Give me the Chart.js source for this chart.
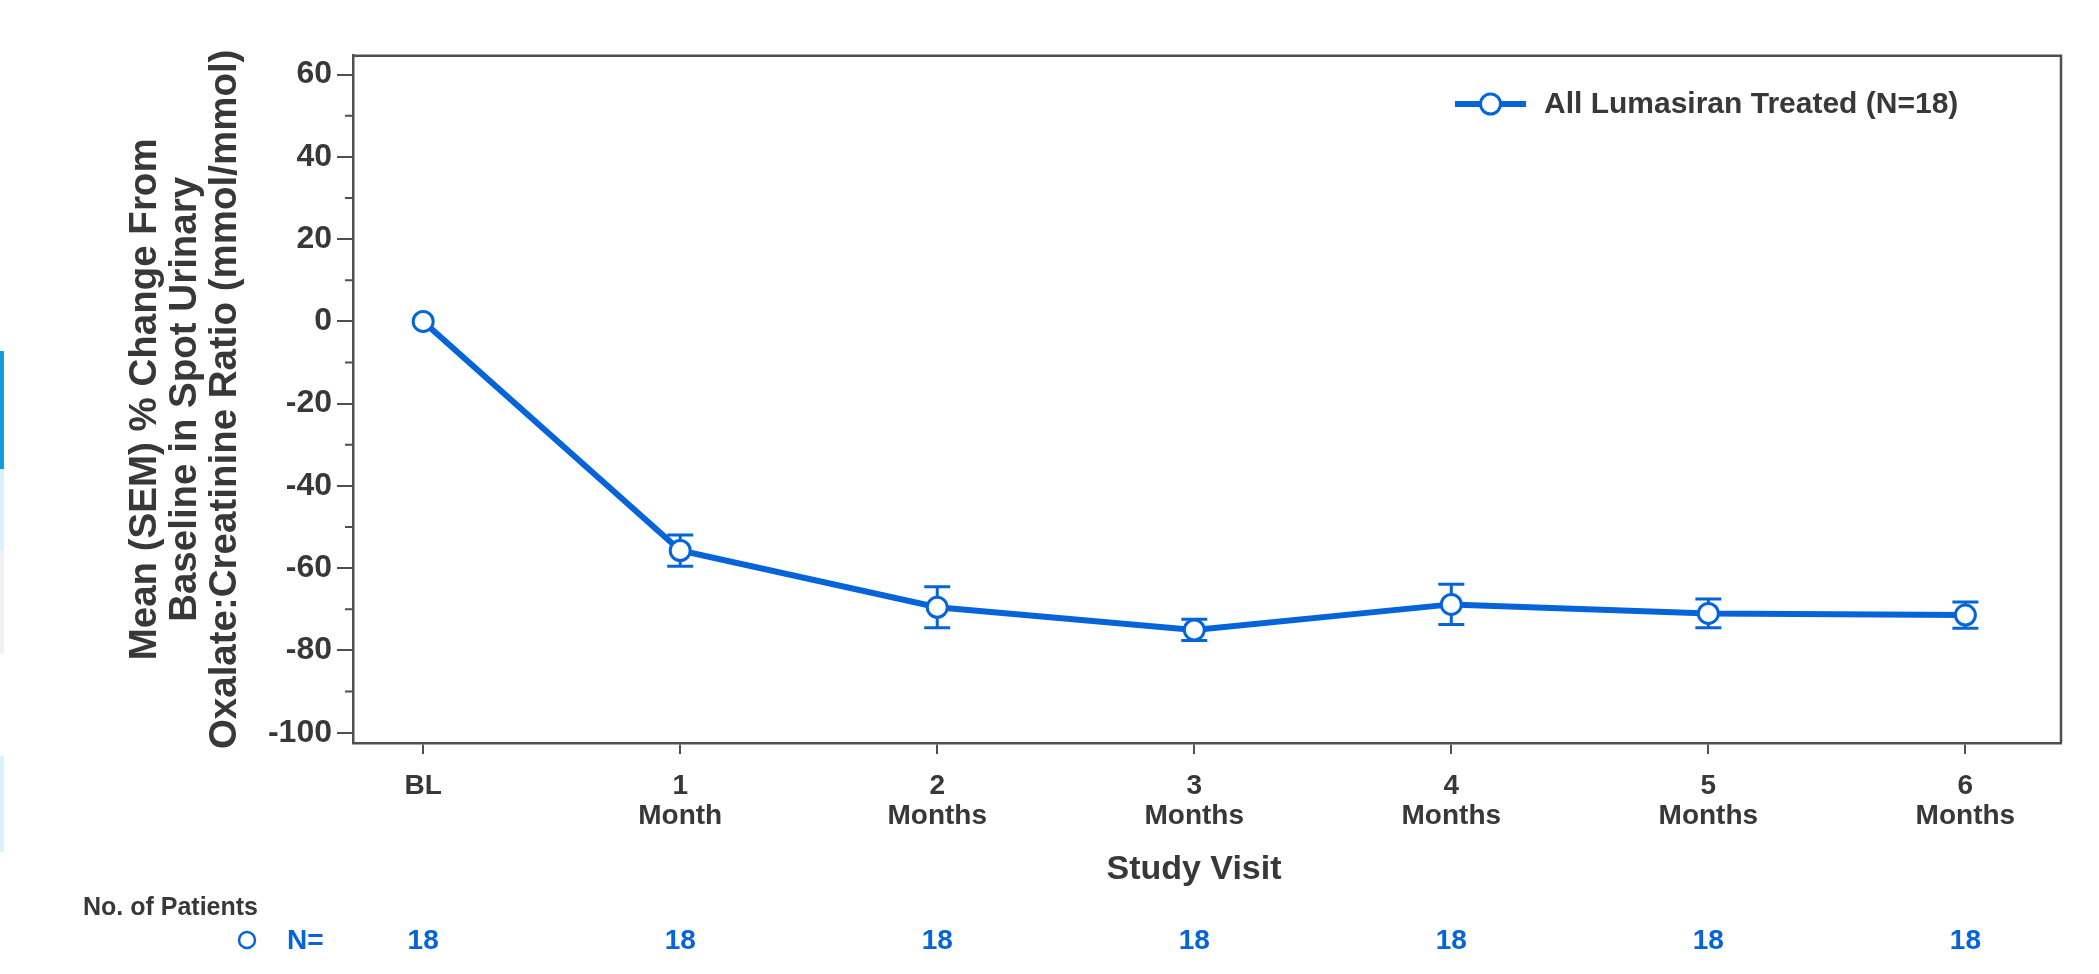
<!DOCTYPE html>
<html>
<head>
<meta charset="utf-8">
<style>
  html, body { margin: 0; padding: 0; background: #ffffff; overflow: hidden; }
  #wrap { position: relative; width: 2099px; height: 974px; }
  canvas { position: absolute; left: 0; top: 0; }
  .edge { position: absolute; left: 0; width: 4px; }
</style>
<script src="https://cdn.jsdelivr.net/npm/chart.js@4.4.1/dist/chart.umd.min.js"></script>
</head>
<body>
<div id="wrap">
  <div class="edge" style="top:351px;height:118px;background:#129be0;"></div>
  <div class="edge" style="top:469px;height:82px;background:#d8f2fc;"></div>
  <div class="edge" style="top:551px;height:103px;background:#f1f1f1;"></div>
  <div class="edge" style="top:756px;height:96px;background:#d8f2fc;"></div>
  <canvas id="chart" width="2099" height="974"></canvas>
</div>
<script>
// Study visits (x positions 0..6) and their axis labels
const visitIndex = [0, 1, 2, 3, 4, 5, 6];
const visitLabels = [['BL'], ['1', 'Month'], ['2', 'Months'], ['3', 'Months'], ['4', 'Months'], ['5', 'Months'], ['6', 'Months']];

// Mean (SEM) % change from baseline in spot urinary oxalate:creatinine ratio
const meanPct = [0, -55.7, -69.5, -75.0, -68.8, -71.0, -71.4];
const semPct = [0, 3.8, 5.0, 2.6, 4.9, 3.5, 3.2];

// Number of patients at each visit
const nPatients = [18, 18, 18, 18, 18, 18, 18];

// Axis ticks
const yMajorTicks = [60, 40, 20, 0, -20, -40, -60, -80, -100];
const yMinorTicks = [50, 30, 10, -10, -30, -50, -70, -90];

const seriesLabel = 'All Lumasiran Treated (N=18)';
const xTitle = 'Study Visit';
const yTitle = ['Mean (SEM) % Change From', 'Baseline in Spot Urinary', 'Oxalate:Creatinine Ratio (mmol/mmol)'];

const BLUE = '#0664d9';
const TEXT = '#383838';
const AXIS = '#4f4f4f';
const FONT = '"Liberation Sans", Arial, Helvetica, sans-serif';

// Error bars, drawn beneath the line and markers
const errorBars = {
  id: 'errorBars',
  beforeDatasetsDraw(chart) {
    const {ctx, scales: {x, y}} = chart;
    ctx.save();
    ctx.strokeStyle = BLUE;
    ctx.lineWidth = 3;
    meanPct.forEach((m, i) => {
      if (!semPct[i]) return;
      const px = x.getPixelForValue(visitIndex[i]);
      const yHi = y.getPixelForValue(m + semPct[i]);
      const yLo = y.getPixelForValue(m - semPct[i]);
      ctx.beginPath();
      ctx.moveTo(px, yHi); ctx.lineTo(px, yLo);
      ctx.moveTo(px - 13, yHi); ctx.lineTo(px + 13, yHi);
      ctx.moveTo(px - 13, yLo); ctx.lineTo(px + 13, yLo);
      ctx.stroke();
    });
    ctx.restore();
  }
};

// Frame (top/right), minor y ticks, x title, in-plot legend and the patient count row
const decorations = {
  id: 'decorations',
  afterDraw(chart) {
    const {ctx, chartArea: a, scales: {x, y}} = chart;
    ctx.save();
    ctx.strokeStyle = AXIS;
    ctx.lineWidth = 2.5;
    ctx.beginPath();
    ctx.moveTo(a.left, a.top); ctx.lineTo(a.right, a.top); ctx.lineTo(a.right, a.bottom);
    ctx.stroke();

    ctx.lineWidth = 2;
    ctx.beginPath();
    yMinorTicks.forEach(v => {
      const py = y.getPixelForValue(v);
      ctx.moveTo(a.left - 8, py); ctx.lineTo(a.left, py);
    });
    ctx.stroke();

    // x axis title
    ctx.fillStyle = TEXT;
    ctx.font = 'bold 34px ' + FONT;
    ctx.textAlign = 'center';
    ctx.textBaseline = 'middle';
    ctx.fillText(xTitle, 1194, 870);

    // legend
    const ly = 104;
    ctx.strokeStyle = BLUE;
    ctx.lineWidth = 6;
    ctx.beginPath(); ctx.moveTo(1455, ly); ctx.lineTo(1526, ly); ctx.stroke();
    ctx.beginPath(); ctx.arc(1490.5, ly, 10, 0, Math.PI * 2);
    ctx.fillStyle = '#ffffff'; ctx.fill();
    ctx.lineWidth = 3; ctx.stroke();
    ctx.fillStyle = TEXT;
    ctx.font = 'bold 30px ' + FONT;
    ctx.textAlign = 'left';
    ctx.fillText(chart.data.datasets[0].label, 1544, ly + 1);

    // number of patients
    ctx.font = 'bold 25px ' + FONT;
    ctx.fillStyle = TEXT;
    ctx.fillText('No. of Patients', 83, 908);
    ctx.strokeStyle = BLUE;
    ctx.lineWidth = 2.5;
    ctx.beginPath(); ctx.arc(247, 940, 8, 0, Math.PI * 2); ctx.stroke();
    ctx.fillStyle = BLUE;
    ctx.font = 'bold 28px ' + FONT;
    ctx.fillText('N=', 287, 941);
    ctx.textAlign = 'center';
    nPatients.forEach((n, i) => {
      ctx.fillText(String(n), x.getPixelForValue(visitIndex[i]), 941);
    });
    ctx.restore();
  }
};

new Chart(document.getElementById('chart'), {
  type: 'line',
  data: {
    datasets: [{
      label: seriesLabel,
      data: visitIndex.map((v, i) => ({x: v, y: meanPct[i]})),
      borderColor: BLUE,
      borderWidth: 6,
      pointRadius: 10,
      pointBorderWidth: 3,
      pointBackgroundColor: '#ffffff',
      pointBorderColor: BLUE,
      tension: 0,
      clip: false
    }]
  },
  options: {
    responsive: false,
    devicePixelRatio: 1,
    animation: false,
    layout: {padding: {top: 55.7, right: 38, left: 0, bottom: 0}},
    plugins: {legend: {display: false}, tooltip: {enabled: false}},
    scales: {
      x: {
        type: 'linear',
        min: -0.273,
        max: 6.372,
        afterBuildTicks: s => { s.ticks = visitIndex.map(v => ({value: v})); },
        afterFit: s => { s.height = 231; },
        grid: {drawOnChartArea: false, drawTicks: true, tickLength: 11, color: AXIS, lineWidth: 2},
        border: {display: true, color: AXIS, width: 2.5},
        ticks: {
          autoSkip: false, maxRotation: 0, padding: 17, color: TEXT,
          font: {family: FONT, size: 28, weight: 'bold', lineHeight: 1.07},
          callback: v => visitLabels[visitIndex.indexOf(v)]
        },
        title: {display: false}
      },
      y: {
        type: 'linear',
        min: -102.5,
        max: 64.6,
        afterBuildTicks: s => { s.ticks = yMajorTicks.map(v => ({value: v})); },
        afterFit: s => { s.width = 353; },
        grid: {drawOnChartArea: false, drawTicks: true, tickLength: 16, color: AXIS, lineWidth: 2},
        border: {display: true, color: AXIS, width: 2.5},
        ticks: {
          padding: 5, color: TEXT,
          font: {family: FONT, size: 32, weight: 'bold'},
          callback: v => String(v)
        },
        title: {
          display: true, text: yTitle, color: TEXT,
          font: {family: FONT, size: 38.5, weight: 'bold', lineHeight: 1.04},
          padding: {top: 125, bottom: 0}
        }
      }
    }
  },
  plugins: [errorBars, decorations]
});
</script>
</body>
</html>
